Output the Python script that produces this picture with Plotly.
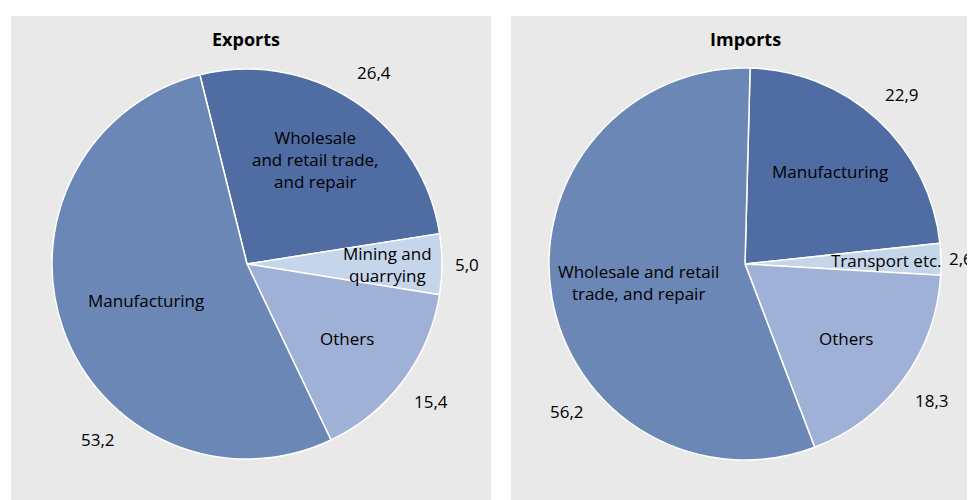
import math

import plotly.graph_objects as go

# Exports by industry, %
exp_labels = ["Wholesale<br>and retail trade,<br>and repair", "Mining and<br>quarrying", "Others", "Manufacturing"]
exp_values = [26.4, 5.0, 15.4, 53.2]

# Imports by industry, %
imp_labels = ["Manufacturing", "Transport etc.", "Others", "Wholesale and retail<br>trade, and repair"]
imp_values = [22.9, 2.6, 18.3, 56.2]

exp_colors = ["#4f6ca3", "#c6d6ea", "#9fb1d6", "#6b87b6"]
imp_colors = ["#4f6ca3", "#c6d6ea", "#9fb1d6", "#6b87b6"]

# the page body has an 8px margin, so the figure is 8px smaller and
# every pixel position below is shifted by OFF
OFF = 8
W, H = 975 - OFF, 500 - OFF
FONT = "Open Sans"

# the big slices carry their value label further round (degrees)
value_shift = {3: -30}

# pie geometry in pixels: (centre x, centre y from top, radius, start rotation, title x)
panels = [
    ("Exports", exp_labels, exp_values, exp_colors, 247, 264, 195, -14, 246),
    ("Imports", imp_labels, imp_values, imp_colors, 745, 264, 196, 1.5, 745),
]


def px(x):
    return (x - OFF) / W


def py(y):
    return 1 - (y - OFF) / H


fig = go.Figure()
annotations = []

for title, labels, values, colors, cx, cy, r, rot, tx in panels:
    fig.add_trace(go.Pie(
        labels=[l.replace("<br>", " ") for l in labels],
        values=values,
        sort=False,
        direction="clockwise",
        rotation=rot,
        marker=dict(colors=colors, line=dict(color="white", width=1.5)),
        textinfo="none",
        hoverinfo="label+value",
        showlegend=False,
        domain=dict(x=[px(cx - r), px(cx + r)], y=[py(cy + r), py(cy - r)]),
    ))
    annotations.append(dict(
        x=px(tx), y=py(39), xref="paper", yref="paper", text="<b>%s</b>" % title,
        xanchor="center", yanchor="middle",
        showarrow=False, font=dict(family=FONT, size=18, color="black"),
    ))
    total = sum(values)
    start = rot
    for i, (lab, v) in enumerate(zip(labels, values)):
        mid = start + 180 * v / total
        start += 360 * v / total
        share = v / total
        f_in = 0.72 if share < 0.1 else (0.55 if share > 0.5 else 0.64)
        f_out = 1.1 if share < 0.04 else (1.13 if share < 0.1 else 1.18)
        items = (
            (f_in, mid, lab),
            (f_out, mid + value_shift.get(i, 0), ("%.1f" % v).replace(".", ",")),
        )
        for f, ang, txt in items:
            a = math.radians(ang)
            x = cx + f * r * math.sin(a)
            y = cy - f * r * math.cos(a)
            annotations.append(dict(
                x=px(x), y=py(y), xref="paper", yref="paper", text=txt,
                xanchor="center", yanchor="middle",
                showarrow=False, font=dict(family=FONT, size=17, color="black"),
                align="center",
            ))

shapes = [
    dict(type="rect", xref="paper", yref="paper", x0=px(11), x1=px(491), y0=py(500), y1=py(16),
         fillcolor="#e9e9e9", line=dict(width=0), layer="below"),
    dict(type="rect", xref="paper", yref="paper", x0=px(511), x1=px(975), y0=py(500), y1=py(16),
         fillcolor="#e9e9e9", line=dict(width=0), layer="below"),
]

fig.update_layout(
    width=W,
    height=H,
    margin=dict(l=0, r=0, t=0, b=0),
    paper_bgcolor="white",
    plot_bgcolor="white",
    shapes=shapes,
    annotations=annotations,
    font=dict(family=FONT),
)

fig.write_html("out.html")
